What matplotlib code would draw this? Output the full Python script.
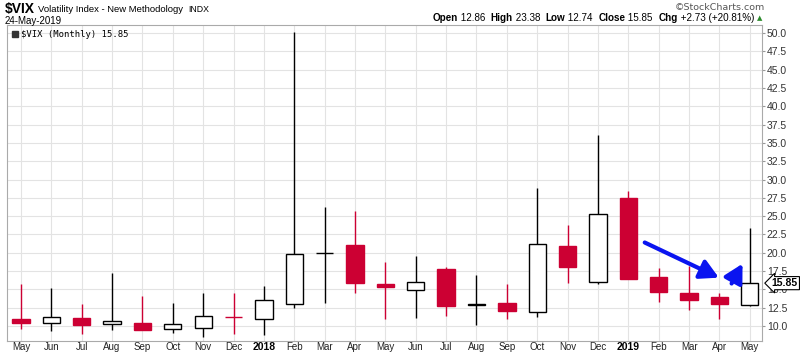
import numpy as np
import matplotlib.pyplot as plt
from matplotlib.patches import Rectangle

# VIX monthly candles, May 2017 .. May 2019
meses = ['May', 'Jun', 'Jul', 'Aug', 'Sep', 'Oct', 'Nov', 'Dec', '2018',
         'Feb', 'Mar', 'Apr', 'May', 'Jun', 'Jul', 'Aug', 'Sep', 'Oct', 'Nov', 'Dec', '2019',
         'Feb', 'Mar', 'Apr', 'May']
abre = [11.0, 10.45, 11.14, 10.23, 10.37, 9.55, 9.73, 11.25, 10.92, 13.05, 19.9, 21.05, 15.8,
        14.89, 17.76, 13.02, 13.2, 11.96, 20.96, 15.98, 27.5, 16.7, 14.56, 13.97, 12.86]
alto = [15.7, 15.25, 13.05, 17.3, 14.1, 13.2, 14.56, 14.56, 15.5, 50.2, 26.2, 25.7, 18.77,
        19.6, 18.1, 16.95, 15.7, 28.86, 23.8, 36.1, 28.5, 17.9, 18.2, 14.47, 23.38]
bajo = [9.55, 9.3, 8.86, 9.4, 9.4, 9.1, 8.54, 8.86, 8.8, 12.42, 13.2, 14.5, 10.92,
        11.14, 11.37, 10.14, 11.0, 11.27, 15.9, 15.8, 16.4, 13.3, 12.2, 11.0, 12.74]
cierre = [10.35, 11.27, 10.18, 10.68, 9.41, 10.23, 11.37, 11.2, 13.56, 19.82, 19.98, 15.85, 15.34,
          16.03, 12.74, 12.92, 12.0, 21.2, 18.08, 25.3, 16.4, 14.7, 13.56, 12.97, 15.85]
cierre_previo = 10.82  # Apr 2017 close
ultimo = 15.85

# flechas azules (x0, y0, x1, y1) en coordenadas de datos
flechas = [(20.54, 21.4, 22.98, 16.6), (23.4, 15.8, 23.76, 18.5)]

rojo = '#cc0033'
fuente = 'Liberation Sans'
fig = plt.figure(figsize=(8.0, 3.53), dpi=100)
ax = fig.add_axes([0.00875, 1 - 341 / 353, 0.9437, (341 - 25) / 353])

x = np.arange(len(meses))
o = np.array(abre); h = np.array(alto); l = np.array(bajo); c = np.array(cierre)
prev = np.concatenate([[cierre_previo], c[:-1]])
colores = [rojo if c[i] < prev[i] else 'black' for i in range(len(c))]

ancho = 0.57
for i in x:
    col = colores[i]
    ax.vlines(i, l[i], h[i], color=col, lw=1.0, zorder=3)
    lleno = c[i] < o[i]
    ax.bar(i, abs(c[i] - o[i]), width=ancho, bottom=min(o[i], c[i]),
           facecolor=col if lleno else 'white', edgecolor=col, lw=1.0, zorder=4)

for x0, y0, x1, y1 in flechas:
    ax.annotate('', xy=(x1, y1), xytext=(x0, y0),
                arrowprops=dict(arrowstyle='-|>,head_length=1.1,head_width=0.6',
                                color='#0a14f0', lw=3, shrinkA=0, shrinkB=0), zorder=6)

ymin, ymax = 7.95, 51.1
ax.set_xlim(-0.46, 24.4)
ax.set_ylim(ymin, ymax)
ax.set_xticks(x)
ax.set_xticklabels(meses, fontsize=7, family=fuente, color='#222222')
for t in ax.get_xticklabels():
    if t.get_text() in ('2018', '2019'):
        t.set_fontweight('bold')
        t.set_fontsize(7.5)
        t.set_color('black')
ax.set_yticks(np.arange(10, 50.1, 2.5))
ax.yaxis.tick_right()
ax.set_yticklabels(['%.1f' % v for v in np.arange(10, 50.1, 2.5)], fontsize=7.5,
                   family=fuente, color='#333333')
ax.tick_params(axis='x', length=0, pad=1)
ax.tick_params(axis='y', length=2, color='#999999', pad=1.5)
ax.grid(True, color='#e3e3e3', lw=0.8, zorder=0)
ax.set_axisbelow(True)
for s in ax.spines.values():
    s.set_color('#aaaaaa')
    s.set_linewidth(0.8)

# etiqueta del ultimo valor
ax.text(1.013, (ultimo - ymin) / (ymax - ymin), '%.2f' % ultimo, transform=ax.transAxes,
        fontsize=7.5, fontweight='bold', family=fuente, va='center', ha='left', zorder=10,
        bbox=dict(boxstyle='larrow,pad=0.15', fc='white', ec='black', lw=0.8), clip_on=False)

# leyenda
ax.add_patch(Rectangle((0.006, 0.962), 0.008, 0.019, transform=ax.transAxes,
                       color='#333333', zorder=5))
ax.text(0.019, 0.971, '$VIX (Monthly) %.2f' % ultimo, transform=ax.transAxes,
        fontsize=6.4, family='DejaVu Sans Mono', va='center', ha='left')

# encabezado
fig.text(0.006, 1 - 9 / 353, '$VIX', fontsize=10, fontweight='bold', family=fuente, va='center')
fig.text(0.047, 1 - 9 / 353, 'Volatility Index - New Methodology', fontsize=6.8,
         family=fuente, va='center')
fig.text(0.235, 1 - 9 / 353, 'INDX', fontsize=6.3, family=fuente, va='center')
fig.text(0.006, 1 - 20.5 / 353, '24-May-2019', fontsize=7, family=fuente, va='center')
fig.text(0.9, 1 - 7 / 353, '\u00a9StockCharts.com', fontsize=6.8, family='DejaVu Sans',
         color='#555555', va='center', ha='center')

partes = [('Open', True), (' 12.86  ', False), ('High', True), (' 23.38  ', False),
          ('Low', True), (' 12.74  ', False), ('Close', True), (' 15.85  ', False),
          ('Chg', True), (' +2.73 (+20.81%) ', False)]
fig.canvas.draw()
r = fig.canvas.get_renderer()
ylinea = 1 - 18 / 353
xpos = 762 / 800
t = fig.text(xpos, ylinea, '\u25b2', fontsize=5, color='#2a8a2a', ha='right', va='center',
             family='DejaVu Sans')
xpos -= t.get_window_extent(r).width / fig.bbox.width
for txt, negrita in reversed(partes):
    t = fig.text(xpos, ylinea, txt, fontsize=7.1, family=fuente, ha='right', va='center',
                 fontweight='bold' if negrita else 'normal')
    xpos -= t.get_window_extent(r).width / fig.bbox.width

plt.savefig('out.png', dpi=100)
